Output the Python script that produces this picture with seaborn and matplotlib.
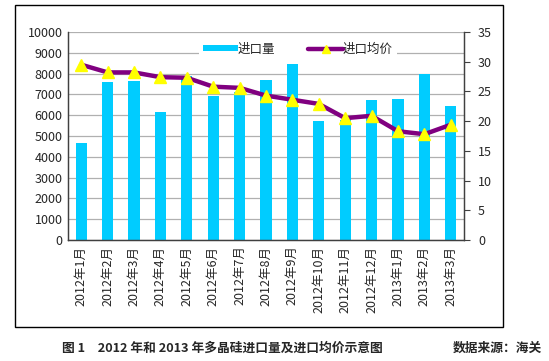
import matplotlib
matplotlib.use("Agg")
import matplotlib.pyplot as plt
import seaborn as sns
import numpy as np
import pandas as pd
from matplotlib.patches import Rectangle, Patch
from matplotlib.lines import Line2D

months = ["2012年1月", "2012年2月", "2012年3月", "2012年4月", "2012年5月", "2012年6月",
          "2012年7月", "2012年8月", "2012年9月", "2012年10月", "2012年11月", "2012年12月",
          "2013年1月", "2013年2月", "2013年3月"]
volume = [4680, 7600, 7640, 6160, 7880, 6920, 7110, 7690, 8460, 5720, 5750, 6730, 6780, 8000, 6460]
price = [29.5, 28.2, 28.2, 27.4, 27.3, 25.8, 25.6, 24.3, 23.6, 22.9, 20.5, 20.9, 18.3, 17.8, 19.4]

sns.set_style("white")
plt.rcParams['font.family'] = ['Noto Sans CJK SC', 'DejaVu Sans']

fig = plt.figure(figsize=(5.49, 3.61), dpi=100)
ax = fig.add_axes([68/549, 1-240/361, (464-68)/549, (240-32)/361])

df = pd.DataFrame({"month": months, "volume": volume, "price": price})
sns.barplot(data=df, x="month", y="volume", color="#00CCFF", width=0.42, ax=ax,
            saturation=1, edgecolor="none", zorder=2)
ax.set_ylim(0, 10000)
ax.set_yticks(np.arange(0, 10001, 1000))
ax.set_xlim(-0.5, 14.5)
ax.yaxis.grid(True, color="#b0b0b0", linewidth=0.9, zorder=0)
ax.set_axisbelow(True)
ax.set_xlabel("")
ax.set_ylabel("")
ax.tick_params(axis='y', labelsize=9, length=0, pad=4)
ax.tick_params(axis='x', labelsize=9, rotation=90, length=0, pad=4)
ax.set_xticks(np.arange(15))
ax.set_xticks(np.arange(0.5, 14.5, 1), minor=True)
ax.tick_params(axis='x', which='minor', direction='in', length=3, color='#404040')
ax.spines["top"].set_visible(False)
for s in ["left", "bottom", "right"]:
    ax.spines[s].set_color("#404040")
    ax.spines[s].set_linewidth(0.9)

ax2 = ax.twinx()
x = np.arange(len(price))
sns.lineplot(x=x, y=price, ax=ax2, color="#800080", linewidth=3.2, zorder=3)
ax2.plot(x, price, linestyle="none", marker="^", markersize=8.5, markerfacecolor="#FFFF00",
         markeredgecolor="#FFFF00", zorder=4)
ax2.set_ylim(0, 35)
ax2.set_yticks(np.arange(0, 36, 5))
ax2.tick_params(axis='y', labelsize=9, direction='out', length=4, pad=6, color='#404040')
ax2.spines["top"].set_visible(False)
for s in ["left", "bottom", "right"]:
    ax2.spines[s].set_color("#404040")
    ax2.spines[s].set_linewidth(0.9)
ax2.set_xlim(-0.5, 14.5)

handles = [Patch(facecolor="#00CCFF", edgecolor="none"),
           Line2D([0], [0], color="#800080", linewidth=3.2, marker="^", markersize=6,
                  markerfacecolor="#FFFF00", markeredgecolor="#FFFF00")]
leg = ax2.legend(handles, ["进口量", "进口均价"], ncol=2, loc="center",
                 bbox_to_anchor=(298/549, 1-49/361), bbox_transform=fig.transFigure,
                 frameon=True, fontsize=9, handlelength=2.8, handleheight=0.45,
                 handletextpad=0.0, columnspacing=2.6, borderpad=0.3)
leg.get_frame().set_facecolor("white")
leg.get_frame().set_edgecolor("none")
leg.get_frame().set_alpha(1)

fig.patches.append(Rectangle((15/549, 1-327/361), (503-15)/549, (327-5)/361,
                             transform=fig.transFigure, fill=False, edgecolor="black",
                             linewidth=1.0))

fig.text(62/549, 1-348/361, "图 1　2012 年和 2013 年多晶硅进口量及进口均价示意图", fontsize=9.2,
         fontweight="bold", ha="left", va="center")
fig.text(542/549, 1-348/361, "数据来源：海关", fontsize=9.2, fontweight="bold", ha="right", va="center")

fig.savefig("out.png", dpi=100)
